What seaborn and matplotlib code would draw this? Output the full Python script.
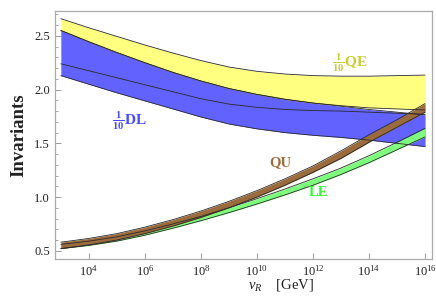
import numpy as np
import pandas as pd
import matplotlib
matplotlib.use("Agg")
import matplotlib.pyplot as plt
import seaborn as sns

# log10(v_R / GeV)
exps = [3, 4, 5, 6, 7, 8, 9, 10, 11, 12, 13, 14, 15, 16]

qe_upper = [2.66, 2.575, 2.495, 2.415, 2.34, 2.27, 2.21, 2.17, 2.145, 2.13, 2.125, 2.125, 2.13, 2.135]
qe_lower = [2.55, 2.445, 2.345, 2.25, 2.16, 2.08, 2.01, 1.955, 1.91, 1.875, 1.85, 1.83, 1.82, 1.81]
dl_upper = [2.55, 2.445, 2.345, 2.25, 2.16, 2.08, 2.01, 1.955, 1.91, 1.875, 1.845, 1.815, 1.79, 1.765]
dl_mid   = [2.24, 2.175, 2.11, 2.045, 1.98, 1.915, 1.865, 1.835, 1.815, 1.805, 1.80, 1.79, 1.78, 1.77]
dl_lower = [2.13, 2.05, 1.97, 1.895, 1.82, 1.745, 1.68, 1.635, 1.60, 1.575, 1.555, 1.53, 1.50, 1.47]
qu_upper = [0.58, 0.615, 0.66, 0.72, 0.79, 0.87, 0.96, 1.06, 1.17, 1.29, 1.43, 1.58, 1.72, 1.87]
qu_lower = [0.52, 0.555, 0.60, 0.66, 0.73, 0.81, 0.90, 1.00, 1.11, 1.23, 1.36, 1.51, 1.65, 1.79]
le_upper = [0.56, 0.59, 0.63, 0.685, 0.75, 0.82, 0.90, 0.985, 1.075, 1.17, 1.27, 1.385, 1.51, 1.64]
le_lower = [0.52, 0.55, 0.59, 0.645, 0.71, 0.78, 0.855, 0.935, 1.02, 1.11, 1.21, 1.32, 1.44, 1.56]

xticks_exp = [4, 6, 8, 10, 12, 14, 16]
yticks = [0.5, 1.0, 1.5, 2.0, 2.5]

sns.set_theme(style="white")
plt.rcParams['font.family'] = ['Liberation Serif', 'DejaVu Serif']
plt.rcParams['mathtext.fontset'] = 'custom'
plt.rcParams['mathtext.rm'] = 'Liberation Serif'
plt.rcParams['mathtext.it'] = 'Liberation Serif:italic'
plt.rcParams['mathtext.bf'] = 'Liberation Serif:bold'

x = 10.0 ** np.array(exps, dtype=float)
df = pd.DataFrame({
    "x": x, "qe_u": qe_upper, "qe_l": qe_lower, "dl_u": dl_upper, "dl_m": dl_mid,
    "dl_l": dl_lower, "qu_u": qu_upper, "qu_l": qu_lower, "le_u": le_upper, "le_l": le_lower,
})

W, H = 436, 301
fig = plt.figure(figsize=(W / 100, H / 100), dpi=100)
ax = fig.add_axes([0.126, 0.140, 0.865, 0.823])

edge = "#2a2a2a"
lw = 0.6

bands = [
    ("dl_u", "dl_l", "#6262ff"),
    ("qe_u", "qe_l", "#ffff80"),
    ("le_u", "le_l", "#7dff7d"),
    ("qu_u", "qu_l", "#9c6b3c"),
]
for up, lo, col in bands:
    ax.fill_between(df["x"], df[lo], df[up], color=col, lw=0, zorder=2)
    sns.lineplot(data=df, x="x", y=up, ax=ax, color=edge, lw=lw, zorder=3)
    sns.lineplot(data=df, x="x", y=lo, ax=ax, color=edge, lw=lw, zorder=3)
sns.lineplot(data=df, x="x", y="dl_m", ax=ax, color=edge, lw=lw, zorder=3)

ax.set_xscale("log")
ax.set_xlim(10 ** 2.79, 10 ** 16.25)
ax.set_ylim(0.425, 2.73)
ax.set_xticks([10.0 ** e for e in xticks_exp])
ax.set_xticklabels([r"$10^{%d}$" % e for e in xticks_exp])
ax.xaxis.set_minor_locator(matplotlib.ticker.NullLocator())
ax.set_yticks(yticks)
ax.set_yticklabels(["%.1f" % v for v in yticks])
ax.yaxis.set_minor_locator(matplotlib.ticker.MultipleLocator(0.1))

for s in ax.spines.values():
    s.set_color("#aaaaaa")
    s.set_linewidth(0.9)
ax.tick_params(axis="both", which="both", direction="in", color="#999999",
               labelcolor="#222222", bottom=True, left=True, top=False, right=False)
ax.tick_params(axis="y", labelsize=9)
ax.tick_params(axis="x", labelsize=9, pad=4)
ax.tick_params(which="major", length=4, width=0.7)
ax.tick_params(which="minor", length=2, width=0.6)

ax.set_xlabel(r"$v_R$    [GeV]", fontsize=10.5, color="#222222", labelpad=2)
ax.xaxis.set_label_coords(0.6, -0.075)
ax.set_ylabel("Invariants", fontsize=13.5, fontweight="bold", color="#222222", labelpad=5)


def label(px, py, s, color, **kw):
    ax.annotate(s, xy=(px, H - py), xycoords="figure pixels", color=color,
                ha="center", va="center", **kw)


label(350, 63, r"$\frac{\mathbf{1}}{\mathbf{10}}\mathbf{QE}$", "#cccc33", fontsize=11)
label(130, 121, r"$\frac{\mathbf{1}}{\mathbf{10}}\mathbf{DL}$", "#4a4aff", fontsize=11)
label(280, 163, "QU", "#9c6b3c", fontsize=10.5, fontweight="bold")
label(318, 193, "LE", "#2aff2a", fontsize=10.5, fontweight="bold")

fig.savefig("out.png", dpi=100)
